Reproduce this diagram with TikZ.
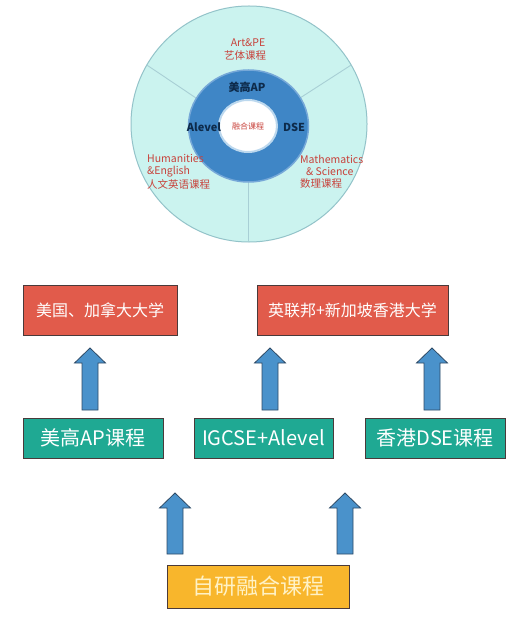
\documentclass[tikz,border=0pt]{standalone}
\usepackage{fontspec}
\setmainfont{Noto Sans CJK SC}
\definecolor{outerfill}{HTML}{CBF3EF}
\definecolor{outeredge}{HTML}{93C3C9}
\definecolor{divider}{HTML}{A8CFD5}
\definecolor{ringfill}{HTML}{3F86C6}
\definecolor{ringedge}{HTML}{76A8D8}
\definecolor{glow}{HTML}{BCD8EE}
\definecolor{redtxt}{HTML}{C8413A}
\definecolor{navytxt}{HTML}{0D2A4A}
\definecolor{redfill}{HTML}{E15B4B}
\definecolor{greenfill}{HTML}{1FA993}
\definecolor{yellowfill}{HTML}{F8B62C}
\definecolor{yellowtxt}{HTML}{FFF2C6}
\definecolor{boxedge}{HTML}{4A3A3A}
\definecolor{arrowfill}{HTML}{4A92CB}
\definecolor{arrowedge}{HTML}{2E4A66}
\newcommand\blockarrowup[4]{%
  \filldraw[arrowshape] (#1-8,#4) -- (#1-8,#3) -- (#1-15.5,#3) -- (#1,#2)
    -- (#1+15.5,#3) -- (#1+8,#3) -- (#1+8,#4) -- cycle;}
\begin{document}
\begin{tikzpicture}[x=1pt,y=-1pt,
  arrowshape/.style={fill=arrowfill,draw=arrowedge,line width=0.8pt,line join=miter},
  redbox/.style={draw=boxedge,fill=redfill,text=white,minimum height=50pt,inner sep=0pt,line width=0.8pt,
    font=\fontsize{16}{16}\selectfont},
  greenbox/.style={draw=boxedge,fill=greenfill,text=white,minimum height=40pt,inner sep=0pt,line width=0.8pt,
    font=\fontsize{20}{20}\selectfont},
  yellowbox/.style={draw=boxedge,fill=yellowfill,text=yellowtxt,minimum height=43pt,inner sep=0pt,line width=0.8pt,
    font=\fontsize{22}{22}\selectfont},
  redlabel/.style={text=redtxt,inner sep=0pt,font=\fontsize{10.5}{10.5}\selectfont},
  navylabel/.style={text=navytxt,inner sep=0pt,font=\fontsize{11}{11}\selectfont},
  divline/.style={draw=divider,line width=0.9pt}]
\useasboundingbox (0,0) rectangle (528,620);
\fill[white] (0,0) rectangle (528,620);
% circle diagram
\filldraw[fill=outerfill,draw=outeredge,line width=1pt] (249,124) circle [radius=118pt];
\coordinate (d1o) at (351.2,65);
\coordinate (d1i) at (300,98);
\coordinate (d2o) at (146.8,65);
\coordinate (d2i) at (196,98);
\coordinate (d3o) at (248,242);
\coordinate (d3i) at (248,182);
\draw[divline] (d1i) -- (d1o);
\draw[divline] (d2i) -- (d2o);
\draw[divline] (d3i) -- (d3o);
\filldraw[fill=ringfill,draw=ringedge,line width=1.5pt] (248.5,126) ellipse [x radius=60pt,y radius=56pt];
\filldraw[fill=white,draw=glow,line width=2pt] (248,126) ellipse [x radius=29pt,y radius=26pt];
\node[redlabel] (art) at (248,43) {Art\&PE};
\node[redlabel] (artcn) at (245,55.5) {艺体课程};
\node[navylabel,font=\fontsize{11}{11}\selectfont\bfseries] (ap) at (247,87) {美高AP};
\node[navylabel,font=\fontsize{11}{11}\selectfont\bfseries] (alev) at (204,127.5) {Alevel};
\node[navylabel,font=\fontsize{11}{11}\selectfont\bfseries] (dse) at (294,127.5) {DSE};
\node[redlabel,font=\fontsize{8}{8}\selectfont] (fuse) at (248,126.5) {融合课程};
\node[redlabel,anchor=west] (hum1) at (147,159) {Humanities};
\node[redlabel,anchor=west] (hum2) at (147,171.5) {\&English};
\node[redlabel,anchor=west] (hum3) at (147,184) {人文英语课程};
\node[redlabel,anchor=west] (mat1) at (300,159) {Mathematics};
\node[redlabel,anchor=west] (mat2) at (306,171.5) {\& Science};
\node[redlabel,anchor=west] (mat3) at (300,184) {数理课程};
% boxes
\node[redbox,minimum width=154pt] (us) at (100,310) {美国、加拿大大学};
\node[redbox,minimum width=191pt] (uk) at (352.5,310) {英联邦+新加坡香港大学};
\node[greenbox,minimum width=140pt] (apc) at (93,438) {美高AP课程};
\node[greenbox,minimum width=139pt] (igc) at (263.5,438) {IGCSE+Alevel};
\node[greenbox,minimum width=140pt] (dsec) at (435,438) {香港DSE课程};
\node[yellowbox,minimum width=182pt] (own) at (258,586.5) {自研融合课程};
% block arrows
\blockarrowup{90}{348}{363}{410}
\blockarrowup{270}{348}{363}{410}
\blockarrowup{432}{348}{363}{410}
\blockarrowup{175}{493}{508}{554}
\blockarrowup{345}{493}{508}{554}
\end{tikzpicture}
\end{document}
